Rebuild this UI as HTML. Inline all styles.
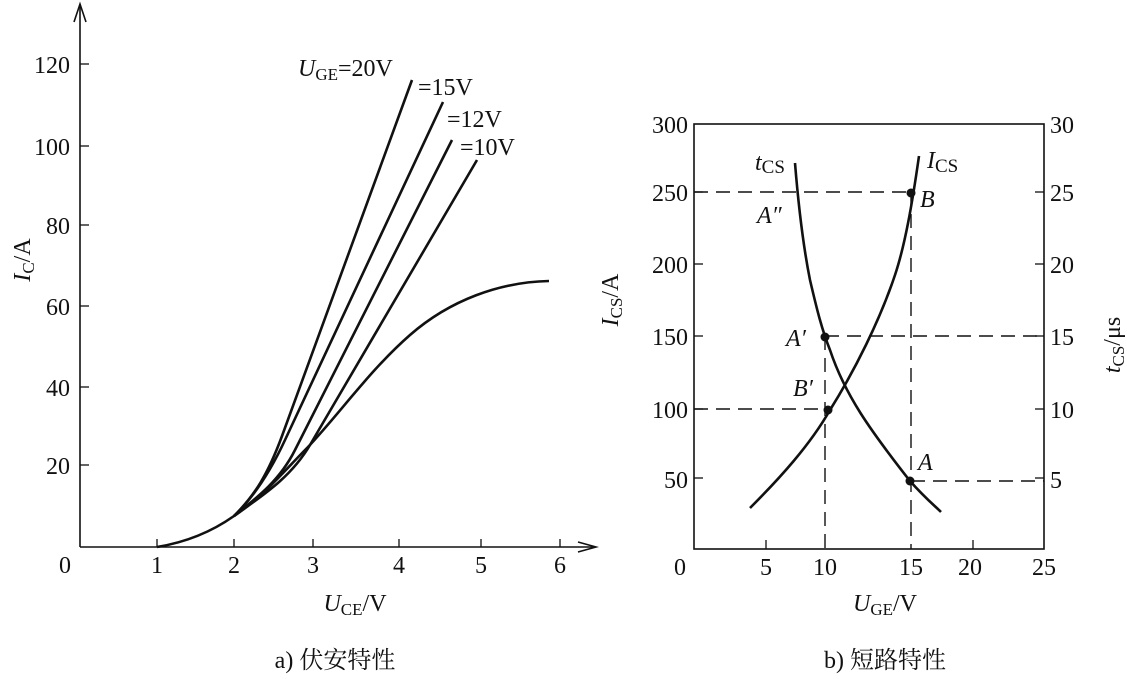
<!DOCTYPE html>
<html><head><meta charset="utf-8"><style>
body{margin:0;background:#fff}
svg text{font-family:"Liberation Serif","Noto Serif CJK SC",serif;fill:#111}
</style></head><body>
<svg width="1127" height="674" viewBox="0 0 1127 674" xmlns="http://www.w3.org/2000/svg">
<g stroke="#111" fill="none" stroke-width="1.6">
<line x1="80" y1="547" x2="80" y2="4"/>
<path d="M74 22 L80 4 L86 22" />
<line x1="80" y1="547" x2="595" y2="547"/>
<path d="M578 542 L596 547 L578 552"/>
<g stroke-width="1.3">
<line x1="157" y1="547" x2="157" y2="539"/><line x1="234" y1="547" x2="234" y2="539"/>
<line x1="313" y1="547" x2="313" y2="539"/><line x1="399" y1="547" x2="399" y2="539"/>
<line x1="481" y1="547" x2="481" y2="539"/><line x1="560" y1="547" x2="560" y2="539"/>
<line x1="80" y1="64" x2="89" y2="64"/><line x1="80" y1="146" x2="89" y2="146"/>
<line x1="80" y1="225" x2="89" y2="225"/><line x1="80" y1="306" x2="89" y2="306"/>
<line x1="80" y1="387" x2="89" y2="387"/><line x1="80" y1="465" x2="89" y2="465"/>
</g>
<g stroke-width="2.6">
<path d="M157 547 Q200 540 234 516"/>
<path d="M234 516 C255 495 268 474 282 436 L412 80"/>
<path d="M234 516 C256 495 272 468 285 440 L443 102"/>
<path d="M234 516 C258 497 280 480 295 450 L452 140"/>
<path d="M234 516 C260 497 290 479 310 445 L477 160"/>
<path d="M234 516 C265 495 285 470 308 447 C340 413 370 370 410 335 C450 300 500 282 549 281"/>
</g>
<!-- right chart -->
<rect x="694" y="124" width="350" height="425"/>
<g stroke-width="1.3">
<line x1="694" y1="192" x2="703" y2="192"/><line x1="694" y1="264" x2="703" y2="264"/>
<line x1="694" y1="336" x2="703" y2="336"/><line x1="694" y1="409" x2="703" y2="409"/>
<line x1="694" y1="478" x2="703" y2="478"/>
<line x1="1044" y1="192" x2="1035" y2="192"/><line x1="1044" y1="264" x2="1035" y2="264"/>
<line x1="1044" y1="336" x2="1035" y2="336"/><line x1="1044" y1="409" x2="1035" y2="409"/>
<line x1="1044" y1="478" x2="1035" y2="478"/>
<line x1="766" y1="549" x2="766" y2="540"/><line x1="973" y1="549" x2="973" y2="540"/>
</g>
<g stroke-width="1.4" stroke-dasharray="14,8">
<line x1="694" y1="192" x2="911" y2="192"/><line x1="911" y1="192" x2="911" y2="549"/>
<line x1="825" y1="336" x2="1044" y2="336"/><line x1="825" y1="336" x2="825" y2="549"/>
<line x1="694" y1="409" x2="828" y2="409"/><line x1="911" y1="481" x2="1044" y2="481"/>
</g>
<g stroke-width="2.6">
<path d="M750 508 C780 478 810 445 830 410 C855 370 880 320 895 275 C905 245 912 205 919 156"/>
<path d="M795 163 C798 200 802 240 810 280 C817 310 822 330 830 350 C845 395 870 430 910 481 C925 498 935 506 941 512"/>
</g>
</g>
<g fill="#111">
<circle cx="911" cy="193" r="4.5"/><circle cx="825" cy="337" r="4.5"/>
<circle cx="828" cy="410" r="4.5"/><circle cx="910" cy="481" r="4.5"/>
</g>
<g font-size="24">
<text x="65" y="573" text-anchor="middle">0</text>
<text x="157" y="573" text-anchor="middle">1</text><text x="234" y="573" text-anchor="middle">2</text>
<text x="313" y="573" text-anchor="middle">3</text><text x="399" y="573" text-anchor="middle">4</text>
<text x="481" y="573" text-anchor="middle">5</text><text x="560" y="573" text-anchor="middle">6</text>
<g text-anchor="end">
<text x="70" y="73">120</text><text x="70" y="155">100</text><text x="70" y="234">80</text>
<text x="70" y="315">60</text><text x="70" y="396">40</text><text x="70" y="474">20</text>
</g>
<text x="298" y="76"><tspan font-style="italic">U</tspan><tspan font-size="17" dy="4">GE</tspan><tspan dy="-4">=20V</tspan></text>
<text x="418" y="95">=15V</text><text x="447" y="127">=12V</text><text x="460" y="155">=10V</text>
<text transform="translate(30,260) rotate(-90)" text-anchor="middle"><tspan font-style="italic">I</tspan><tspan font-size="17" dy="4">C</tspan><tspan dy="-4">/A</tspan></text>
<text x="355" y="611" text-anchor="middle"><tspan font-style="italic">U</tspan><tspan font-size="17" dy="4">CE</tspan><tspan dy="-4">/V</tspan></text>
<text x="335" y="668" text-anchor="middle">a) 伏安特性</text>
<g text-anchor="end">
<text x="688" y="133">300</text><text x="688" y="201">250</text><text x="688" y="273">200</text>
<text x="688" y="345">150</text><text x="688" y="418">100</text><text x="688" y="488">50</text>
</g>
<text x="1050" y="133">30</text><text x="1050" y="201">25</text><text x="1050" y="273">20</text>
<text x="1050" y="345">15</text><text x="1050" y="418">10</text><text x="1050" y="488">5</text>
<text x="680" y="575" text-anchor="middle">0</text><text x="766" y="575" text-anchor="middle">5</text>
<text x="825" y="575" text-anchor="middle">10</text><text x="911" y="575" text-anchor="middle">15</text>
<text x="970" y="575" text-anchor="middle">20</text><text x="1044" y="575" text-anchor="middle">25</text>
<text x="755" y="170"><tspan font-style="italic">t</tspan><tspan font-size="19" dy="3">CS</tspan></text>
<text x="927" y="168"><tspan font-style="italic">I</tspan><tspan font-size="19" dy="4">CS</tspan></text>
<text x="757" y="223" font-style="italic">A″</text>
<text x="920" y="207" font-style="italic">B</text>
<text x="786" y="346" font-style="italic">A′</text>
<text x="793" y="396" font-style="italic">B′</text>
<text x="918" y="470" font-style="italic">A</text>
<text transform="translate(618,300) rotate(-90)" text-anchor="middle"><tspan font-style="italic">I</tspan><tspan font-size="17" dy="4">CS</tspan><tspan dy="-4">/A</tspan></text>
<text transform="translate(1120,345) rotate(-90)" text-anchor="middle"><tspan font-style="italic">t</tspan><tspan font-size="17" dy="4">CS</tspan><tspan dy="-4">/μs</tspan></text>
<text x="885" y="611" text-anchor="middle"><tspan font-style="italic">U</tspan><tspan font-size="17" dy="4">GE</tspan><tspan dy="-4">/V</tspan></text>
<text x="885" y="668" text-anchor="middle">b) 短路特性</text>
</g>
</svg>
</body></html>
